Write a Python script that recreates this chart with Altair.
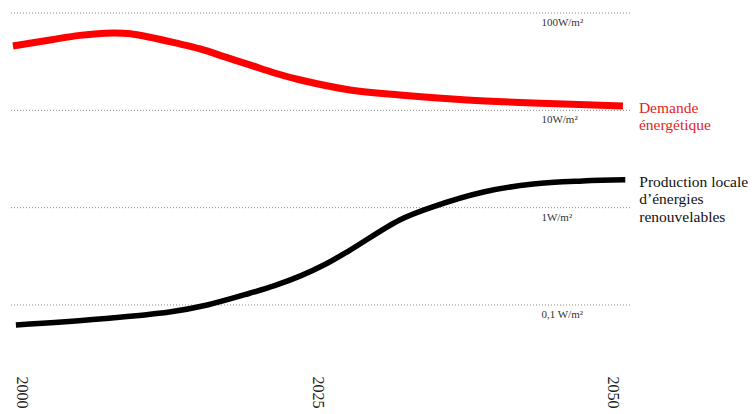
import altair as alt
import pandas as pd

# --- data ---
demand_years = [1999.25, 2002.4, 2004.9, 2007.7, 2009.2, 2010.85, 2013.0, 2015.1,
                2017.2, 2019.3, 2021.4, 2023.6, 2027.8, 2032.0, 2037.7, 2043.3, 2050.9]
demand_values = [45.9, 52.9, 58.9, 62.4, 61.3, 56.4, 49.3, 42.8,
                 35.4, 29.3, 24.2, 20.5, 16.2, 14.4, 12.8, 11.9, 11.1]

prod_years = [1999.5, 2006.6, 2012.5, 2015.7, 2019.3, 2021.4, 2023.6, 2025.7,
              2027.8, 2032.0, 2034.8, 2039.1, 2043.3, 2047.5, 2051.1]
prod_values = [0.0623, 0.0718, 0.0847, 0.1, 0.132, 0.158, 0.199, 0.262,
               0.367, 0.748, 1.02, 1.45, 1.75, 1.88, 1.93]

grid_levels = [100, 10, 1, 0.1]
grid_labels = ["100W/m²", "10W/m²", "1W/m²", "0,1 W/m²"]
grid_label_year = 2044.0

tick_years = [2000, 2025, 2050]

demand_label = ["Demande", "énergétique"]
prod_label = ["Production locale", "d’énergies", "renouvelables"]

# --- tables ---
demand_df = pd.DataFrame({"year": demand_years, "value": demand_values})
prod_df = pd.DataFrame({"year": prod_years, "value": prod_values})
grid_df = pd.DataFrame({"level": grid_levels, "label": grid_labels,
                        "year": [grid_label_year] * len(grid_levels)})
demand_lab_df = pd.DataFrame({"year": [demand_years[-1]], "value": [demand_values[-1]],
                              "label": [demand_label]})
prod_lab_df = pd.DataFrame({"year": [prod_years[-1]], "value": [prod_values[-1]],
                            "label": [prod_label]})

FONT = "Liberation Serif"
xscale = alt.Scale(domain=[1999.0, 2051.5], nice=False, zero=False)
yscale = alt.Scale(type="log", domain=[0.04368, 112.6], nice=False)

x_axis = alt.Axis(values=tick_years, format="d", labelAngle=90, ticks=False,
                  domain=False, grid=False, title=None, labelFont=FONT,
                  labelFontSize=16, labelColor="#222", labelPadding=36,
                  labelFlush=False)

grid = alt.Chart(grid_df).mark_rule(
    color="#8a8a8a", strokeWidth=1, strokeDash=[1, 2]
).encode(
    y=alt.Y("level:Q", scale=yscale, axis=None),
)

grid_text = alt.Chart(grid_df).mark_text(
    font=FONT, fontSize=11, color="#333", align="left", baseline="alphabetic", dy=13
).encode(
    x=alt.X("year:Q", scale=xscale, axis=x_axis),
    y=alt.Y("level:Q", scale=yscale, axis=None),
    text="label:N",
)

demand_line = alt.Chart(demand_df).mark_line(
    color="#ff0000", strokeWidth=7, interpolate="catmull-rom"
).encode(
    x=alt.X("year:Q", scale=xscale, axis=x_axis),
    y=alt.Y("value:Q", scale=yscale, axis=None),
)

prod_line = alt.Chart(prod_df).mark_line(
    color="#000000", strokeWidth=5.5, interpolate="catmull-rom"
).encode(
    x=alt.X("year:Q", scale=xscale, axis=x_axis),
    y=alt.Y("value:Q", scale=yscale, axis=None),
)

demand_text = alt.Chart(demand_lab_df).mark_text(
    font=FONT, fontSize=15.5, color="#e31e24", align="left", baseline="alphabetic",
    dx=16, dy=7, lineHeight=17
).encode(
    x=alt.X("year:Q", scale=xscale, axis=x_axis),
    y=alt.Y("value:Q", scale=yscale, axis=None),
    text=alt.Text("label"),
)

prod_text = alt.Chart(prod_lab_df).mark_text(
    font=FONT, fontSize=15.5, color="#111", align="left", baseline="alphabetic",
    dx=14, dy=7, lineHeight=17.5
).encode(
    x=alt.X("year:Q", scale=xscale, axis=x_axis),
    y=alt.Y("value:Q", scale=yscale, axis=None),
    text=alt.Text("label"),
)

chart = alt.layer(
    grid, grid_text, demand_line, prod_line, demand_text, prod_text
).properties(
    width=620, height=332,
    autosize=alt.AutoSizeParams(type="none"),
    padding={"left": 2, "top": 0, "right": 118, "bottom": 80},
).configure(
    font=FONT
).configure_view(strokeWidth=0)

chart.save("out.html", embed_options={"renderer": "svg", "actions": False})
